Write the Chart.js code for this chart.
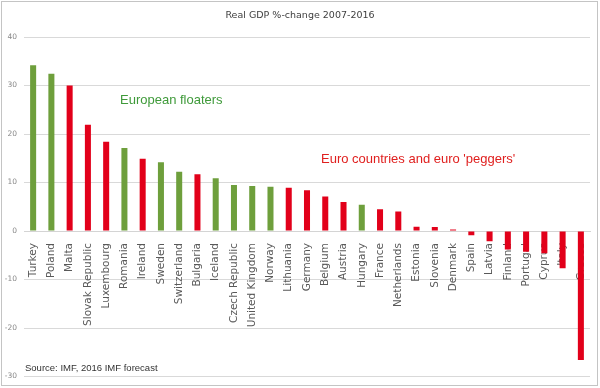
<!DOCTYPE html>
<html>
<head>
<meta charset="utf-8">
<script src="https://cdn.jsdelivr.net/npm/chart.js@4"></script>
<style>
    html, body { margin: 0; padding: 0; background: #fff; }
    #wrap { width: 600px; height: 388px; }
</style>
</head>
<body>
<div id="wrap"><canvas id="gdpChart" width="600" height="388"></canvas></div>
<script>
// Real GDP %-change 2007-2016
const countries = [
    'Turkey', 'Poland', 'Malta', 'Slovak Republic', 'Luxembourg', 'Romania',
    'Ireland', 'Sweden', 'Switzerland', 'Bulgaria', 'Iceland', 'Czech Republic',
    'United Kingdom', 'Norway', 'Lithuania', 'Germany', 'Belgium', 'Austria',
    'Hungary', 'France', 'Netherlands', 'Estonia', 'Slovenia', 'Denmark',
    'Spain', 'Latvia', 'Finland', 'Portugal', 'Cyprus', 'Italy', 'Greece'
];
const gdpChange = [
    34.2, 32.4, 30.0, 21.9, 18.4, 17.1,
    14.9, 14.2, 12.2, 11.7, 10.9, 9.5,
    9.3, 9.1, 8.9, 8.4, 7.1, 6.0,
    5.4, 4.5, 4.0, 0.9, 0.8, 0.3,
    -0.9, -2.1, -3.8, -4.3, -4.6, -7.7, -26.6
];
// 'F' = European floater (green), 'E' = euro country or peg (red)
const groups = [
    'F', 'F', 'E', 'E', 'E', 'F',
    'E', 'F', 'F', 'E', 'F', 'F',
    'F', 'F', 'E', 'E', 'E', 'E',
    'F', 'E', 'E', 'E', 'E', 'E',
    'E', 'E', 'E', 'E', 'E', 'E', 'E'
];
const yMin = -30;
const yMax = 40;
const yStep = 10;

const GREEN = '#6e9f3c';
const RED = '#e2001a';

const barColors = groups.map(g => (g === 'F' ? GREEN : RED));

// Frame, title and free text drawn on top of the chart
const notesPlugin = {
    id: 'notes',
    beforeDraw(chart) {
        const ctx = chart.ctx;
        ctx.save();
        ctx.fillStyle = '#fff';
        ctx.fillRect(0, 0, chart.width, chart.height);
        ctx.restore();
    },
    afterDraw(chart) {
        const ctx = chart.ctx;
        ctx.save();
        ctx.strokeStyle = '#c4c4c4';
        ctx.lineWidth = 1;
        ctx.strokeRect(1.5, 1.5, chart.width - 4, chart.height - 4);

        ctx.textBaseline = 'middle';
        ctx.fillStyle = '#404040';
        ctx.font = '9.5px "DejaVu Sans"';
        ctx.textAlign = 'center';
        ctx.fillText('Real GDP %-change 2007-2016', 300, 16);

        ctx.textAlign = 'left';
        ctx.font = '13px "Liberation Sans"';
        ctx.fillStyle = '#3f9a3a';
        ctx.fillText('European floaters', 120, 100);
        ctx.fillStyle = '#e0201f';
        ctx.fillText("Euro countries and euro 'peggers'", 321, 159);

        ctx.font = '9.5px "Liberation Sans"';
        ctx.fillStyle = '#333';
        ctx.fillText('Source: IMF, 2016 IMF forecast', 25, 368);
        ctx.restore();
    }
};

new Chart(document.getElementById('gdpChart'), {
    type: 'bar',
    data: {
        labels: countries,
        datasets: [{
            label: 'Real GDP %-change 2007-2016',
            data: gdpChange,
            backgroundColor: barColors,
            borderWidth: 0,
            barPercentage: 0.33,
            categoryPercentage: 1
        }]
    },
    options: {
        responsive: false,
        animation: false,
        devicePixelRatio: 1,
        layout: {
            padding: { top: 37, bottom: 11, left: 0, right: 10 }
        },
        plugins: {
            legend: { display: false },
            title: { display: false },
            tooltip: { enabled: false }
        },
        scales: {
            x: {
                position: { y: 0 },
                grid: { display: false },
                border: { display: true, color: '#d4d4d4' },
                ticks: {
                    autoSkip: false,
                    minRotation: 90,
                    maxRotation: 90,
                    padding: 4,
                    color: '#595959',
                    font: { family: '"DejaVu Sans"', size: 10.5 }
                }
            },
            y: {
                min: yMin,
                max: yMax,
                border: { display: false },
                grid: { color: '#d9d9d9', drawTicks: false },
                ticks: {
                    stepSize: yStep,
                    padding: 7,
                    color: '#888',
                    font: { family: '"DejaVu Sans"', size: 7.5 }
                },
                afterFit(scale) {
                    scale.width = 24;
                }
            }
        }
    },
    plugins: [notesPlugin]
});
</script>
</body>
</html>
